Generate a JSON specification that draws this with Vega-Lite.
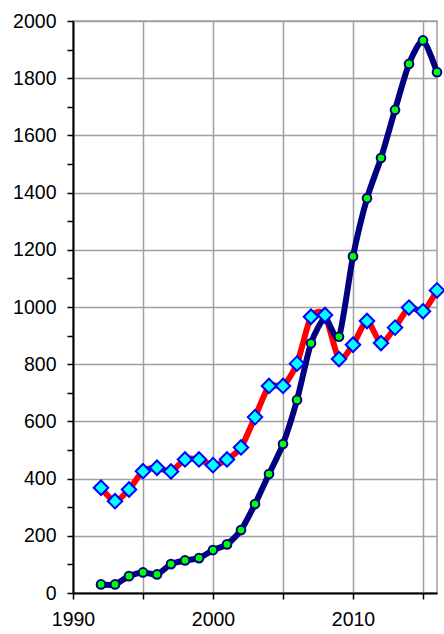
{
  "$schema": "https://vega.github.io/schema/vega-lite/v6.json",
  "width": 364,
  "height": 572,
  "autosize": {"type": "none"},
  "padding": {"left": 73, "top": 21, "right": 7, "bottom": 41},
  "background": "white",
  "config": {
    "view": {"stroke": "#a0a0a0", "strokeWidth": 1.5},
    "axis": {
      "labelFont": "Liberation Sans",
      "labelFontSize": 19.5,
      "labelColor": "black",
      "domainColor": "black",
      "domainWidth": 2,
      "tickColor": "black",
      "tickWidth": 1.5,
      "tickSize": 6,
      "gridColor": "#a0a0a0",
      "gridWidth": 1.5,
      "title": null
    }
  },
  "datasets": {
    "d": [
      {"series": "red", "year": 1992, "value": 368},
      {"series": "red", "year": 1993, "value": 321},
      {"series": "red", "year": 1994, "value": 362},
      {"series": "red", "year": 1995, "value": 426},
      {"series": "red", "year": 1996, "value": 438},
      {"series": "red", "year": 1997, "value": 425},
      {"series": "red", "year": 1998, "value": 467},
      {"series": "red", "year": 1999, "value": 467},
      {"series": "red", "year": 2000, "value": 447},
      {"series": "red", "year": 2001, "value": 467},
      {"series": "red", "year": 2002, "value": 509},
      {"series": "red", "year": 2003, "value": 615},
      {"series": "red", "year": 2004, "value": 724},
      {"series": "red", "year": 2005, "value": 724},
      {"series": "red", "year": 2006, "value": 802},
      {"series": "red", "year": 2007, "value": 966},
      {"series": "red", "year": 2008, "value": 972},
      {"series": "red", "year": 2009, "value": 818},
      {"series": "red", "year": 2010, "value": 868},
      {"series": "red", "year": 2011, "value": 951},
      {"series": "red", "year": 2012, "value": 874},
      {"series": "red", "year": 2013, "value": 928},
      {"series": "red", "year": 2014, "value": 998},
      {"series": "red", "year": 2015, "value": 985},
      {"series": "red", "year": 2016, "value": 1058},
      {"series": "blue", "year": 1992, "value": 30},
      {"series": "blue", "year": 1993, "value": 30},
      {"series": "blue", "year": 1994, "value": 59},
      {"series": "blue", "year": 1995, "value": 72},
      {"series": "blue", "year": 1996, "value": 65},
      {"series": "blue", "year": 1997, "value": 101},
      {"series": "blue", "year": 1998, "value": 114},
      {"series": "blue", "year": 1999, "value": 122},
      {"series": "blue", "year": 2000, "value": 150},
      {"series": "blue", "year": 2001, "value": 170},
      {"series": "blue", "year": 2002, "value": 220},
      {"series": "blue", "year": 2003, "value": 311},
      {"series": "blue", "year": 2004, "value": 416},
      {"series": "blue", "year": 2005, "value": 521},
      {"series": "blue", "year": 2006, "value": 675},
      {"series": "blue", "year": 2007, "value": 873},
      {"series": "blue", "year": 2008, "value": 960},
      {"series": "blue", "year": 2009, "value": 896},
      {"series": "blue", "year": 2010, "value": 1177},
      {"series": "blue", "year": 2011, "value": 1380},
      {"series": "blue", "year": 2012, "value": 1521},
      {"series": "blue", "year": 2013, "value": 1689},
      {"series": "blue", "year": 2014, "value": 1850},
      {"series": "blue", "year": 2015, "value": 1932},
      {"series": "blue", "year": 2016, "value": 1821}
    ]
  },
  "data": {"name": "d"},
  "encoding": {
    "x": {
      "field": "year",
      "type": "quantitative",
      "scale": {"domain": [1990, 2016], "nice": false, "zero": false},
      "axis": {
        "values": [1990, 1995, 2000, 2005, 2010, 2015],
        "format": "d",
        "labelExpr": "datum.value % 10 == 0 ? datum.label : ''",
        "labelPadding": 11,
        "labelFlush": false
      }
    },
    "y": {
      "field": "value",
      "type": "quantitative",
      "scale": {"domain": [0, 2000], "nice": false},
      "axis": {
        "values": [0, 100, 200, 300, 400, 500, 600, 700, 800, 900, 1000, 1100, 1200, 1300, 1400, 1500, 1600, 1700, 1800, 1900, 2000],
        "format": "d",
        "labelExpr": "datum.value % 200 == 0 ? datum.label : ''",
        "labelPadding": 11,
        "gridOpacity": {"condition": {"test": "datum.value % 200 != 0", "value": 0}, "value": 1}
      }
    }
  },
  "layer": [
    {
      "transform": [{"filter": "datum.series == 'red'"}],
      "mark": {"type": "line", "color": "#ff0000", "strokeWidth": 6, "interpolate": "cardinal", "tension": 0.3}
    },
    {
      "transform": [{"filter": "datum.series == 'blue'"}],
      "mark": {"type": "line", "color": "#000080", "strokeWidth": 6, "interpolate": "cardinal", "tension": 0.3}
    },
    {
      "transform": [{"filter": "datum.series == 'blue'"}],
      "mark": {"type": "point", "shape": "circle", "filled": true, "fill": "#00ff00", "stroke": "#000080", "strokeWidth": 2, "size": 75, "opacity": 1, "fillOpacity": 1}
    },
    {
      "transform": [{"filter": "datum.series == 'red'"}],
      "mark": {"type": "point", "shape": "diamond", "filled": true, "fill": "#00ffff", "stroke": "#0000ff", "strokeWidth": 2, "size": 210, "opacity": 1, "fillOpacity": 1}
    }
  ]
}
